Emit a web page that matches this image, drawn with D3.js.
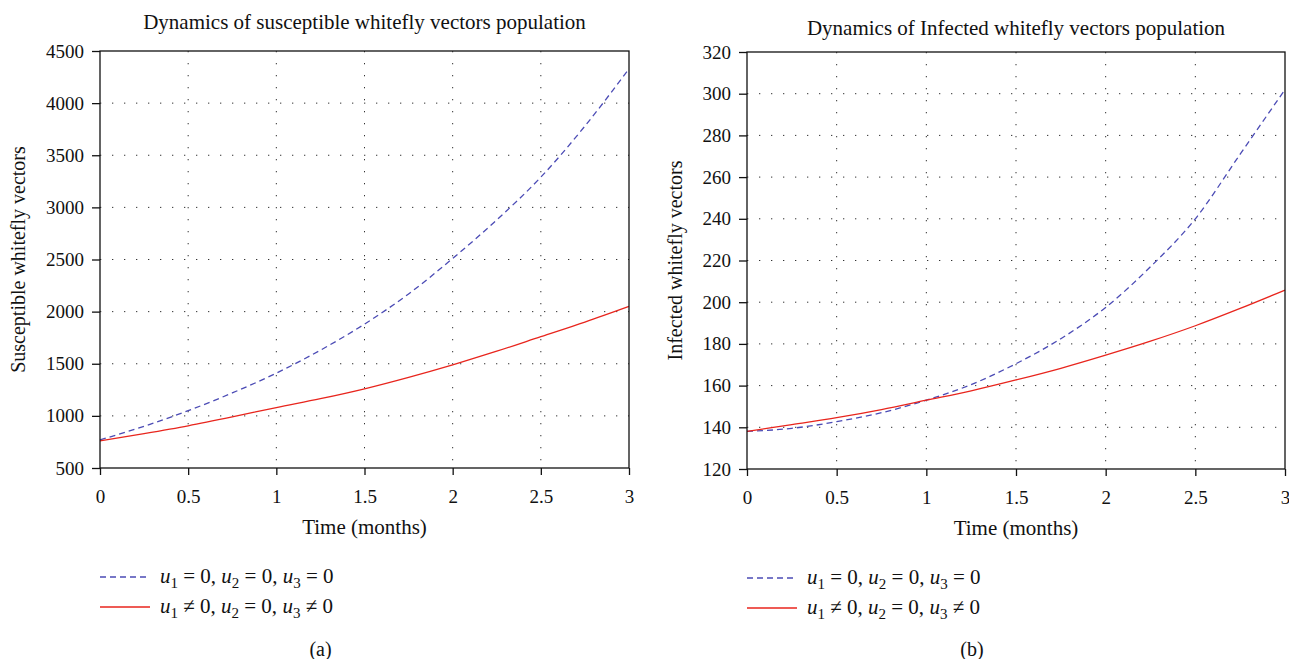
<!DOCTYPE html>
<html>
<head>
<meta charset="utf-8">
<script src="https://cdn.jsdelivr.net/npm/d3@7"></script>
<style>
  body { margin: 0; background: #fff; }
  svg text { font-family: "Liberation Serif", "DejaVu Serif", serif; fill: #111; }
</style>
</head>
<body>
<div id="chart"></div>
<script>
const width = 1289;
const height = 659;

// temps (mois)
const time = [0, 0.25, 0.5, 0.75, 1, 1.25, 1.5, 1.75, 2, 2.25, 2.5, 2.75, 3];

// (a) vecteurs susceptibles
const susNoControl = [770, 900, 1050, 1220, 1410, 1630, 1880, 2170, 2510, 2880, 3290, 3780, 4330];
const susControl = [760, 830, 905, 990, 1080, 1165, 1260, 1370, 1490, 1620, 1760, 1900, 2050];

// (b) vecteurs infectés
const infNoControl = [138, 139.5, 142.7, 147, 153, 160.5, 170.5, 182.5, 197.5, 217, 240, 271, 302];
const infControl = [138, 141.3, 144.6, 148.5, 153, 157.5, 162.7, 168.3, 174.6, 181.3, 188.7, 197, 205.8];

const xTicks = [0, 0.5, 1, 1.5, 2, 2.5, 3];
const susTicks = [500, 1000, 1500, 2000, 2500, 3000, 3500, 4000, 4500];
const infTicks = [120, 140, 160, 180, 200, 220, 240, 260, 280, 300, 320];

const svg = d3.select("#chart")
    .append("svg")
    .attr("width", width)
    .attr("height", height);

const panels = [
    {
        title: "Dynamics of susceptible whitefly vectors population",
        ylabel: "Susceptible whitefly vectors",
        caption: "(a)",
        left: 100, right: 629, top: 51, bottom: 468, titleY: 29, ylabelX: 25,
        yDomain: [500, 4500], yTicks: susTicks,
        series: [susNoControl, susControl]
    },
    {
        title: "Dynamics of Infected whitefly vectors population",
        ylabel: "Infected whitefly vectors",
        caption: "(b)",
        left: 747, right: 1285, top: 52, bottom: 469, titleY: 35, ylabelX: 682,
        yDomain: [120, 320], yTicks: infTicks,
        series: [infNoControl, infControl]
    }
];

const styles = [
    { color: "#4b4bb5", dash: "6,4" },
    { color: "#e8251d", dash: null }
];

panels.forEach(p => {
    const x = d3.scaleLinear().domain([0, 3]).range([p.left, p.right]);
    const y = d3.scaleLinear().domain(p.yDomain).range([p.bottom, p.top]);
    const g = svg.append("g");

    // grille pointillée
    g.selectAll(".vgrid")
        .data(xTicks.slice(1, -1))
        .enter().append("line")
        .attr("x1", d => x(d)).attr("x2", d => x(d))
        .attr("y1", p.top).attr("y2", p.bottom)
        .attr("stroke", "#333").attr("stroke-width", 1)
        .attr("stroke-dasharray", "1.3,10.7");
    g.selectAll(".hgrid")
        .data(p.yTicks.slice(1, -1))
        .enter().append("line")
        .attr("x1", p.left).attr("x2", p.right)
        .attr("y1", d => y(d)).attr("y2", d => y(d))
        .attr("stroke", "#333").attr("stroke-width", 1)
        .attr("stroke-dasharray", "1.3,10.7");

    // courbes
    p.series.forEach((vals, i) => {
        const line = d3.line()
            .x((d, j) => x(time[j]))
            .y(d => y(d))
            .curve(d3.curveMonotoneX);
        g.append("path")
            .datum(vals)
            .attr("d", line)
            .attr("fill", "none")
            .attr("stroke", styles[i].color)
            .attr("stroke-width", 1.3)
            .attr("stroke-dasharray", styles[i].dash);
    });

    // cadre
    g.append("rect")
        .attr("x", p.left).attr("y", p.top)
        .attr("width", p.right - p.left).attr("height", p.bottom - p.top)
        .attr("fill", "none").attr("stroke", "#111").attr("stroke-width", 1.3);

    const xAxis = g.append("g")
        .attr("transform", `translate(0,${p.bottom})`)
        .call(d3.axisBottom(x).tickValues(xTicks).tickSize(7).tickPadding(15).tickFormat(d3.format("")));
    const yAxis = g.append("g")
        .attr("transform", `translate(${p.left},0)`)
        .call(d3.axisLeft(y).tickValues(p.yTicks).tickSize(8).tickPadding(8).tickFormat(d3.format("")));
    [xAxis, yAxis].forEach(a => {
        a.attr("font-family", "Liberation Serif").attr("font-size", 19);
        a.select(".domain").remove();
        a.selectAll("line").attr("stroke", "#111").attr("stroke-width", 1.3);
        a.selectAll("text").attr("fill", "#111");
    });

    const cx = (p.left + p.right) / 2;
    g.append("text")
        .attr("x", cx).attr("y", p.titleY)
        .attr("text-anchor", "middle")
        .style("font-size", "21px")
        .text(p.title);

    g.append("text")
        .attr("x", cx).attr("y", p.bottom + 66)
        .attr("text-anchor", "middle")
        .style("font-size", "21px")
        .text("Time (months)");

    g.append("text")
        .attr("transform", `translate(${p.ylabelX},${(p.top + p.bottom) / 2}) rotate(-90)`)
        .attr("text-anchor", "middle")
        .style("font-size", "20px")
        .text(p.ylabel);

    // légende
    const labels = [["=", "=", "="], ["≠", "=", "≠"]];
    labels.forEach((ops, i) => {
        const ly = p.bottom + 109 + i * 30;
        g.append("line")
            .attr("x1", p.left).attr("x2", p.left + 50)
            .attr("y1", ly).attr("y2", ly)
            .attr("stroke", styles[i].color)
            .attr("stroke-width", 1.3)
            .attr("stroke-dasharray", styles[i].dash);
        const t = g.append("text")
            .attr("x", p.left + 60).attr("y", ly + 6)
            .style("font-size", "21px");
        ops.forEach((op, k) => {
            t.append("tspan").style("font-style", "italic").text("u");
            t.append("tspan").attr("dy", 5).style("font-size", "15px").text(k + 1);
            t.append("tspan").attr("dy", -5).text(` ${op} 0${k < 2 ? ", " : ""}`);
        });
    });

    g.append("text")
        .attr("x", cx - 44).attr("y", 656)
        .attr("text-anchor", "middle")
        .style("font-size", "20px")
        .text(p.caption);
});
</script>
</body>
</html>
